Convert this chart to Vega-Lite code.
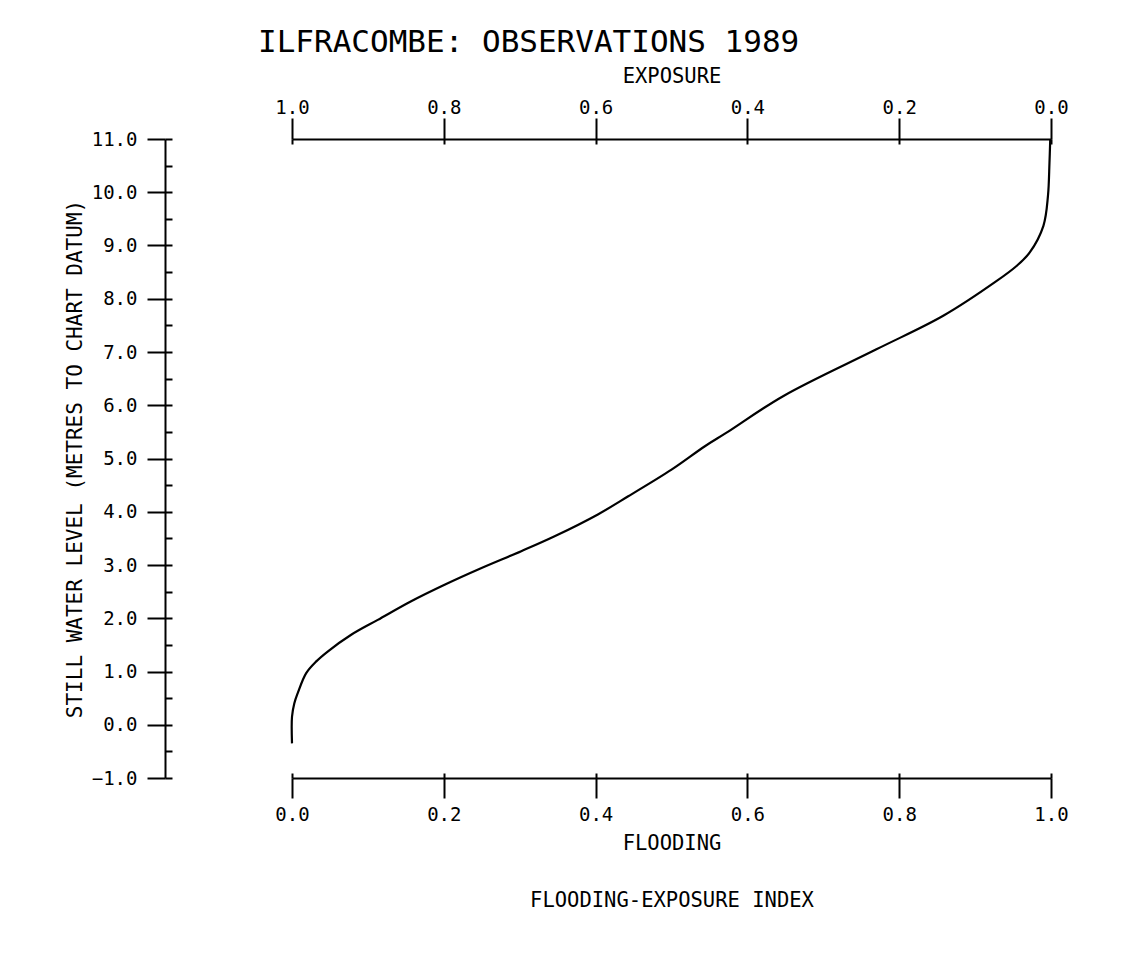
{
  "$schema": "https://vega.github.io/schema/vega-lite/v6.json",
  "autosize": "none",
  "width": 759,
  "height": 639,
  "padding": {"left": 292, "top": 139, "right": 80, "bottom": 186},
  "background": "white",
  "title": {
    "text": "ILFRACOMBE: OBSERVATIONS 1989",
    "anchor": "start",
    "frame": "group",
    "dx": -34,
    "font": "DejaVu Sans Mono",
    "fontSize": 31,
    "fontWeight": "normal",
    "color": "black",
    "offset": 7
  },
  "data": {
    "values": [
      {"flooding": 0.0, "level": -0.35},
      {"flooding": 0.0, "level": 0.15},
      {"flooding": 0.003, "level": 0.4},
      {"flooding": 0.0077, "level": 0.6},
      {"flooding": 0.0187, "level": 0.97},
      {"flooding": 0.032, "level": 1.19},
      {"flooding": 0.047, "level": 1.375},
      {"flooding": 0.078, "level": 1.69},
      {"flooding": 0.113, "level": 1.97},
      {"flooding": 0.157, "level": 2.32},
      {"flooding": 0.201, "level": 2.63},
      {"flooding": 0.249, "level": 2.94},
      {"flooding": 0.302, "level": 3.26},
      {"flooding": 0.346, "level": 3.54},
      {"flooding": 0.403, "level": 3.95},
      {"flooding": 0.443, "level": 4.29},
      {"flooding": 0.5, "level": 4.79},
      {"flooding": 0.544, "level": 5.23},
      {"flooding": 0.572, "level": 5.48},
      {"flooding": 0.647, "level": 6.17},
      {"flooding": 0.77, "level": 7.05},
      {"flooding": 0.858, "level": 7.68},
      {"flooding": 0.928, "level": 8.33},
      {"flooding": 0.955, "level": 8.62},
      {"flooding": 0.972, "level": 8.87},
      {"flooding": 0.99, "level": 9.37},
      {"flooding": 0.996, "level": 9.93},
      {"flooding": 0.998, "level": 10.56},
      {"flooding": 0.999, "level": 11.0}
    ]
  },
  "config": {
    "view": {"stroke": null},
    "axis": {
      "labelFont": "DejaVu Sans Mono",
      "titleFont": "DejaVu Sans Mono",
      "labelColor": "black",
      "titleColor": "black",
      "domainColor": "black",
      "tickColor": "black",
      "grid": false,
      "labelFontSize": 19,
      "titleFontSize": 20.5,
      "titleFontWeight": "normal",
      "domainWidth": 2,
      "tickWidth": 2,
      "labelFlush": false,
      "labelOverlap": false,
      "labelBound": false
    }
  },
  "layer": [
    {
      "mark": {"type": "line", "color": "black", "strokeWidth": 2.2, "interpolate": "catmull-rom", "clip": false},
      "encoding": {
        "x": {
          "field": "flooding", "type": "quantitative",
          "scale": {"domain": [0, 1], "nice": false, "zero": false},
          "axis": {"orient": "bottom", "values": [0, 0.2, 0.4, 0.6, 0.8, 1], "format": ".1f", "tickSize": 20, "labelPadding": 7, "title": "FLOODING", "titlePadding": 9}
        },
        "y": {
          "field": "level", "type": "quantitative",
          "scale": {"domain": [-1, 11], "nice": false, "zero": false},
          "axis": {"orient": "left", "offset": 127, "values": [-1, 0, 1, 2, 3, 4, 5, 6, 7, 8, 9, 10, 11], "format": ".1f", "tickSize": 18, "labelPadding": 10, "title": "STILL WATER LEVEL (METRES TO CHART DATUM)", "titlePadding": 6, "titleFontSize": 21}
        },
        "order": {"field": "level", "type": "quantitative"}
      }
    },
    {
      "mark": {"type": "line", "opacity": 0},
      "encoding": {
        "x": {
          "field": "flooding", "type": "quantitative",
          "scale": {"domain": [0, 1], "nice": false, "zero": false},
          "axis": {"orient": "top", "values": [0, 0.2, 0.4, 0.6, 0.8, 1], "labelExpr": "format(1 - datum.value, '.1f')", "tickSize": 21, "labelPadding": 1, "title": "EXPOSURE", "titlePadding": 12}
        },
        "y": {
          "field": "level", "type": "quantitative",
          "scale": {"domain": [-1, 11], "nice": false, "zero": false},
          "axis": {"orient": "left", "offset": 127, "values": [-1, -0.5, 0, 0.5, 1, 1.5, 2, 2.5, 3, 3.5, 4, 4.5, 5, 5.5, 6, 6.5, 7, 7.5, 8, 8.5, 9, 9.5, 10, 10.5, 11], "tickSize": -7, "labels": false, "domain": false, "title": null}
        },
        "order": {"field": "level", "type": "quantitative"}
      }
    },
    {
      "mark": {"type": "line", "opacity": 0},
      "encoding": {
        "x": {
          "field": "flooding", "type": "quantitative",
          "scale": {"domain": [0, 1], "nice": false, "zero": false},
          "axis": {"orient": "bottom", "values": [0, 0.2, 0.4, 0.6, 0.8, 1], "tickSize": -5, "labels": false, "domain": false, "title": "FLOODING-EXPOSURE INDEX", "titlePadding": 111}
        },
        "y": {
          "field": "level", "type": "quantitative",
          "scale": {"domain": [-1, 11], "nice": false, "zero": false},
          "axis": null
        },
        "order": {"field": "level", "type": "quantitative"}
      }
    },
    {
      "mark": {"type": "line", "opacity": 0},
      "encoding": {
        "x": {
          "field": "flooding", "type": "quantitative",
          "scale": {"domain": [0, 1], "nice": false, "zero": false},
          "axis": {"orient": "top", "values": [0, 0.2, 0.4, 0.6, 0.8, 1], "tickSize": -5, "labels": false, "domain": false, "title": null}
        },
        "y": {
          "field": "level", "type": "quantitative",
          "scale": {"domain": [-1, 11], "nice": false, "zero": false},
          "axis": null
        },
        "order": {"field": "level", "type": "quantitative"}
      }
    }
  ],
  "resolve": {"axis": {"x": "independent", "y": "independent"}}
}
